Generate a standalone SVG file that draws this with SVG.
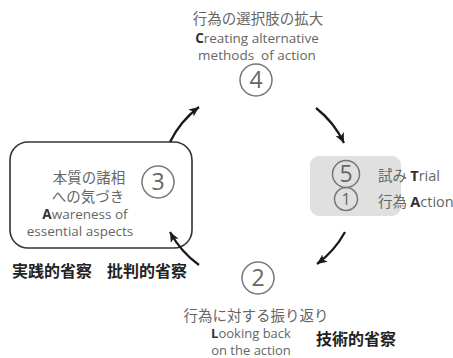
<svg xmlns="http://www.w3.org/2000/svg" width="453" height="358" viewBox="0 0 453 358">
<defs>
<style>
.t{font-family:"Open Sans","Noto Sans CJK JP",sans-serif;fill:#666;font-size:13.5px}
.j{font-family:"Noto Sans CJK JP",sans-serif;fill:#666;font-size:14.5px}
.b{font-weight:bold;fill:#333}
.lb{font-family:"Noto Sans CJK JP",sans-serif;font-weight:bold;fill:#222;font-size:16px}
.c{fill:none;stroke:#777;stroke-width:1.5}
.n{font-family:"Open Sans",sans-serif;fill:#666;font-size:23px;text-anchor:middle}
.a{fill:none;stroke:#1a1a1a;stroke-width:2.3}
</style>
<marker id="ah" markerWidth="12" markerHeight="10" refX="10" refY="4.5" orient="auto" markerUnits="userSpaceOnUse">
<path d="M0,0 L10,4.5 L0,9 L2.5,4.5 z" fill="#1a1a1a"/>
</marker>
</defs>
<g id="node4">
<text class="j" x="258" y="24" text-anchor="middle">行為の選択肢の拡大</text>
<text class="t" x="257" y="43" text-anchor="middle"><tspan class="b">C</tspan>reating alternative</text>
<text class="t" x="257" y="60" text-anchor="middle">methods&#160; of action</text>
<circle class="c" cx="256" cy="80" r="16"/>
<text class="n" x="256" y="88">4</text>
</g>
<g id="node3">
<rect x="10" y="142" width="182" height="106" rx="18" fill="none" stroke="#333" stroke-width="1.6"/>
<text class="j" x="89" y="183" text-anchor="middle">本質の諸相</text>
<text class="j" x="88" y="202" text-anchor="middle">への気づき</text>
<text class="t" x="85" y="219" text-anchor="middle"><tspan class="b">A</tspan>wareness of</text>
<text class="t" x="80" y="236" text-anchor="middle">essential aspects</text>
<circle class="c" cx="158" cy="182" r="16"/>
<text class="n" x="158" y="190">3</text>
</g>
<g id="label-practical">
<text class="lb" x="12" y="277">実践的省察</text>
</g>
<g id="label-critical">
<text class="lb" x="107" y="277">批判的省察</text>
</g>
<g id="node51">
<rect x="310" y="156" width="91" height="60" rx="9" fill="#e0e0e0"/>
<circle class="c" cx="346" cy="174" r="13.5"/>
<text class="n" x="346" y="182">5</text>
<circle class="c" cx="346" cy="199" r="11.5"/>
<text class="n" x="346" y="205" style="font-size:16px">1</text>
<text class="j" x="378" y="181">試み <tspan class="b" style="font-family:'Open Sans',sans-serif">T</tspan><tspan style="font-family:'Open Sans',sans-serif">rial</tspan></text>
<text class="j" x="378" y="207">行為 <tspan class="b" style="font-family:'Open Sans',sans-serif">A</tspan><tspan style="font-family:'Open Sans',sans-serif">ction</tspan></text>
</g>
<g id="node2">
<circle class="c" cx="258" cy="278" r="16"/>
<text class="n" x="258" y="286">2</text>
<text class="j" x="256" y="321" text-anchor="middle">行為に対する振り返り</text>
<text class="t" x="251" y="338" text-anchor="middle" style="font-size:13px"><tspan class="b">L</tspan>ooking back</text>
<text class="t" x="251" y="355" text-anchor="middle" style="font-size:13px">on the action</text>
</g>
<g id="label-technical">
<text class="lb" x="316" y="345">技術的省察</text>
</g>
<g id="connectors">
<path class="a" d="M170,142 A98,98 0 0 1 199,107" marker-end="url(#ah)"/>
<path class="a" d="M316,108 A98,98 0 0 1 344,143" marker-end="url(#ah)"/>
<path class="a" d="M345,232 A98,98 0 0 1 317,264" marker-end="url(#ah)"/>
<path class="a" d="M199,265 A98,98 0 0 1 170,232" marker-end="url(#ah)"/>
</g>
</svg>
